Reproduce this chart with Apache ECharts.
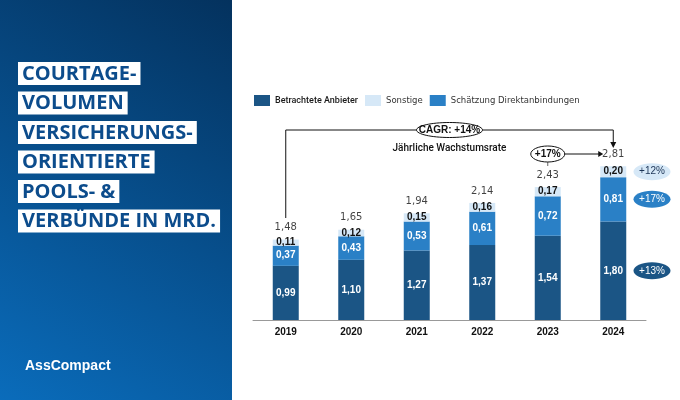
<!DOCTYPE html>
<html>
<head>
<meta charset="utf-8">
<script src="https://cdn.jsdelivr.net/npm/echarts@6/dist/echarts.min.js"></script>
<style>
  html, body { margin: 0; padding: 0; background: #fff; }
  #main { width: 680px; height: 400px; }
</style>
</head>
<body>
<div id="main"></div>
<script>
// Daten aus der Grafik (Mrd.)
var years = ["2019", "2020", "2021", "2022", "2023", "2024"];
var anbieter = [0.99, 1.10, 1.27, 1.37, 1.54, 1.80];
var direkt = [0.37, 0.43, 0.53, 0.61, 0.72, 0.81];
var sonstige = [0.11, 0.12, 0.15, 0.16, 0.17, 0.20];
var totals = [1.48, 1.65, 1.94, 2.14, 2.43, 2.81];
// Wachstumsraten rechts neben 2024 (Sonstige, Direkt, Anbieter)
var growth = ["+12%", "+17%", "+13%"];
var titleLines = ["COURTAGE-", "VOLUMEN", "VERSICHERUNGS-", "ORIENTIERTE", "POOLS- &", "VERBÜNDE IN MRD."];

var DARK = "#1b5585";
var MID = "#2a80c6";
var LIGHT = "#d6e8f7";

function fmt(v) {
  return v.toFixed(2).replace(".", ",");
}

var segLabel = function (color) {
  return {
    show: true,
    position: "inside",
    color: color,
    fontFamily: "Liberation Sans",
    fontWeight: "bold",
    fontSize: 10,
    formatter: function (p) { return fmt(p.value); }
  };
};

var myChart = echarts.init(document.getElementById("main"));

var option = {
  animation: false,
  backgroundColor: "#fff",
  grid: { left: 253, right: 34, top: 128.5, bottom: 80 },
  legend: {
    left: 249,
    top: 90,
    itemWidth: 16,
    itemHeight: 11,
    itemGap: 7,
    icon: "rect",
    data: [
      { name: "Betrachtete Anbieter", textStyle: { fontFamily: "Roboto", fontWeight: 500, fontSize: 9, color: "#1a1a1a" } },
      { name: "Sonstige", textStyle: { fontFamily: "DejaVu Sans", fontSize: 8.5, color: "#333", padding: [0, 7, 0, 0] } },
      { name: "Schätzung Direktanbindungen", textStyle: { fontFamily: "DejaVu Sans", fontSize: 8.5, color: "#333" } }
    ]
  },
  xAxis: {
    type: "category",
    data: years,
    axisLine: { lineStyle: { color: "#999", width: 1 } },
    axisTick: { show: false },
    axisLabel: {
      margin: 7,
      color: "#111",
      fontFamily: "Liberation Sans",
      fontWeight: "bold",
      fontSize: 10
    }
  },
  yAxis: {
    type: "value",
    min: 0,
    max: 3.5,
    show: false
  },
  series: [
    {
      name: "Betrachtete Anbieter",
      type: "bar",
      stack: "vol",
      barWidth: 26,
      itemStyle: { color: DARK },
      label: segLabel("#fff"),
      data: anbieter
    },
    {
      name: "Schätzung Direktanbindungen",
      type: "bar",
      stack: "vol",
      itemStyle: { color: MID },
      label: segLabel("#fff"),
      data: direkt
    },
    {
      name: "Sonstige",
      type: "bar",
      stack: "vol",
      itemStyle: { color: LIGHT },
      label: segLabel("#111"),
      data: sonstige
    },
    {
      // Summen über den Balken
      name: "Summe",
      type: "scatter",
      symbolSize: 0,
      silent: true,
      label: {
        show: true,
        position: "top",
        distance: 7,
        color: "#111",
        fontFamily: "DejaVu Sans",
        fontSize: 10,
        formatter: function (p) { return fmt(p.value); }
      },
      data: totals
    }
  ]
};

myChart.setOption(option);

// Positionen über die Achsen ermitteln
function px(i) { return myChart.convertToPixel({ xAxisIndex: 0 }, i); }
function py(v) { return myChart.convertToPixel({ yAxisIndex: 0 }, v); }

var graphics = [];

// linkes Panel mit Verlauf
graphics.push({
  type: "rect",
  z: 0,
  shape: { x: 0, y: 0, width: 232, height: 400 },
  style: {
    fill: new echarts.graphic.LinearGradient(0, 1, 1, 0, [
      { offset: 0, color: "#0a6cbb" },
      { offset: 1, color: "#04325e" }
    ])
  }
});

// Titelzeilen in weißen Kästen
for (var i = 0; i < titleLines.length; i++) {
  graphics.push({
    type: "text",
    z: 5,
    x: 18,
    y: 62 + i * 29.5,
    style: {
      text: titleLines[i],
      fill: "#0c4c8c",
      font: "bold 20px 'Open Sans'",
      backgroundColor: "#fff",
      padding: [2, 4, 1, 4],
      verticalAlign: "top"
    }
  });
}

// Logo
graphics.push({
  type: "text",
  z: 5,
  x: 25,
  y: 366,
  style: {
    text: "AssCompact",
    fill: "#fff",
    font: "bold 14px 'Liberation Sans'",
    verticalAlign: "middle"
  }
});

// CAGR-Klammer
var x0 = px(0), x5 = px(5), x4 = px(4);
var bracketY = 130;
var lineStyle = { stroke: "#111", lineWidth: 1 };
graphics.push({
  type: "polyline",
  z: 5,
  shape: { points: [[x0, py(totals[0]) - 21], [x0, bracketY], [x5, bracketY], [x5, 143]] },
  style: lineStyle
});
graphics.push({
  type: "polygon",
  z: 5,
  shape: { points: [[x5 - 3, 142], [x5 + 3, 142], [x5, 148]] },
  style: { fill: "#111" }
});
var cx = (x0 + x5) / 2;
graphics.push({
  type: "ellipse",
  z: 6,
  shape: { cx: cx, cy: bracketY, rx: 33, ry: 7.5 },
  style: { fill: "#fff", stroke: "#111", lineWidth: 1 }
});
graphics.push({
  type: "text",
  z: 7,
  x: cx,
  y: bracketY,
  style: { text: "CAGR: +14%", fill: "#111", font: "bold 10px 'Liberation Sans'", align: "center", verticalAlign: "middle" }
});
graphics.push({
  type: "text",
  z: 7,
  x: cx,
  y: 148,
  style: { text: "Jährliche Wachstumsrate", fill: "#111", font: "500 10px 'Roboto'", align: "center", verticalAlign: "middle" }
});

// +17% von 2023 auf 2024
var ey = 154;
graphics.push({
  type: "line",
  z: 5,
  shape: { x1: x4, y1: ey + 8, x2: x4, y2: ey + 12 },
  style: { stroke: "#666", lineWidth: 1 }
});
graphics.push({
  type: "line",
  z: 5,
  shape: { x1: x4 + 17, y1: ey, x2: x5 - 14, y2: ey },
  style: lineStyle
});
graphics.push({
  type: "polygon",
  z: 5,
  shape: { points: [[x5 - 15, ey - 3], [x5 - 15, ey + 3], [x5 - 10, ey]] },
  style: { fill: "#111" }
});
graphics.push({
  type: "ellipse",
  z: 6,
  shape: { cx: x4, cy: ey, rx: 17, ry: 8 },
  style: { fill: "#fff", stroke: "#111", lineWidth: 1 }
});
graphics.push({
  type: "text",
  z: 7,
  x: x4,
  y: ey,
  style: { text: "+17%", fill: "#111", font: "bold 10px 'Liberation Sans'", align: "center", verticalAlign: "middle" }
});

// Wachstums-Bubbles neben 2024, mittig zum jeweiligen Segment
var last = years.length - 1;
var mids = [
  anbieter[last] + direkt[last] + sonstige[last] / 2,
  anbieter[last] + direkt[last] / 2,
  anbieter[last] / 2
];
var bubbleFill = [LIGHT, MID, DARK];
var bubbleText = ["#1d3557", "#fff", "#fff"];
for (var k = 0; k < growth.length; k++) {
  graphics.push({
    type: "ellipse",
    z: 6,
    shape: { cx: 652, cy: py(mids[k]), rx: 18.5, ry: 8.5 },
    style: { fill: bubbleFill[k] }
  });
  graphics.push({
    type: "text",
    z: 7,
    x: 652,
    y: py(mids[k]),
    style: { text: growth[k], fill: bubbleText[k], font: "10px 'Liberation Sans'", align: "center", verticalAlign: "middle" }
  });
}

myChart.setOption({ graphic: graphics });
</script>
</body>
</html>
